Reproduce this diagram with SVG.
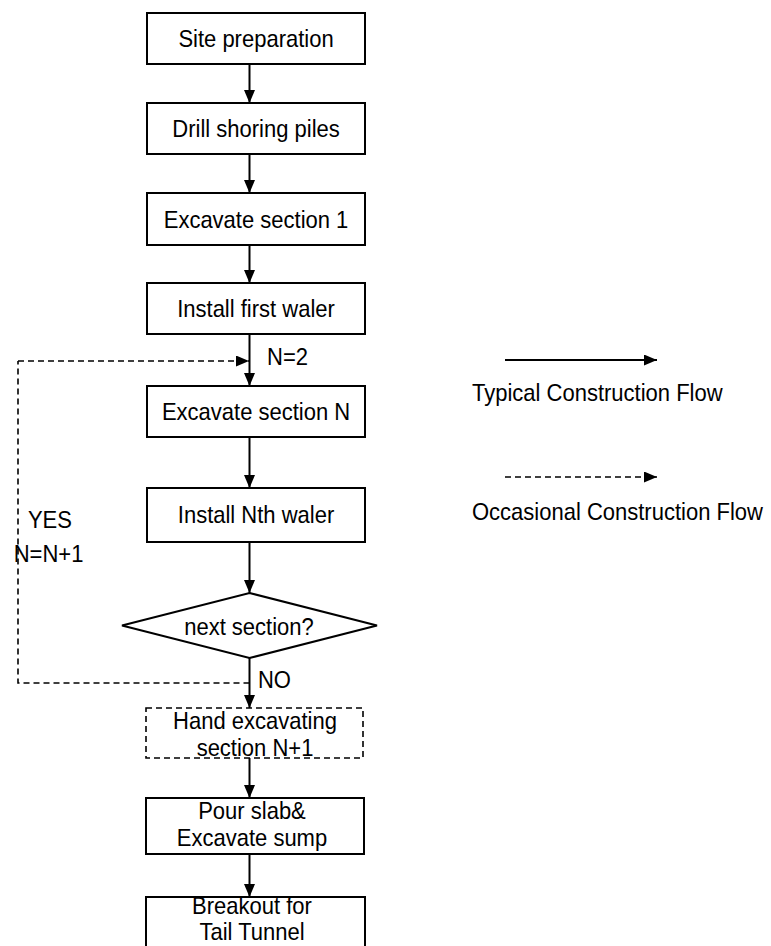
<svg xmlns="http://www.w3.org/2000/svg" width="771" height="946" viewBox="0 0 771 946">
  <defs>
    <marker id="arrow" viewBox="0 0 13 11" refX="13" refY="5.5" markerWidth="13" markerHeight="11" markerUnits="userSpaceOnUse" orient="auto">
      <path d="M0,0 L13,5.5 L0,11 Z" fill="#000"/>
    </marker>
    <style>
      .box { fill: #fff; stroke: #000; stroke-width: 2; }
      .dbox { fill: #fff; stroke: #000; stroke-width: 1.6; stroke-dasharray: 6 4; }
      /* narrow, tall lettering: 24px glyphs squeezed horizontally */
      .lbl { font-family: "Liberation Sans", Arial, sans-serif; font-size: 24px; fill: #000; text-anchor: middle; transform: scaleX(0.9167); }
      .note { font-family: "Liberation Sans", Arial, sans-serif; font-size: 24px; fill: #000; transform: scaleX(0.9167); }
      .flow { fill: none; stroke: #000; stroke-width: 2; marker-end: url(#arrow); }
      .occ { fill: none; stroke: #000; stroke-width: 1.6; stroke-dasharray: 6 4; }
      .occa { fill: none; stroke: #000; stroke-width: 1.6; stroke-dasharray: 6 4; marker-end: url(#arrow); }
    </style>
  </defs>
  <rect width="771" height="946" fill="#fff"/>

  <g id="connectors">
    <line class="flow" x1="249.5" y1="64" x2="249.5" y2="103"/>
    <line class="flow" x1="249.5" y1="154" x2="249.5" y2="193"/>
    <line class="flow" x1="249.5" y1="245" x2="249.5" y2="283"/>
    <line class="flow" x1="249.5" y1="334" x2="249.5" y2="386"/>
    <line class="flow" x1="249.5" y1="437" x2="249.5" y2="488"/>
    <line class="flow" x1="249.5" y1="542" x2="249.5" y2="593"/>
    <line class="flow" x1="249.5" y1="658" x2="249.5" y2="708"/>
    <line class="flow" x1="249.5" y1="758" x2="249.5" y2="798"/>
    <line class="flow" x1="249.5" y1="854" x2="249.5" y2="897"/>
    <!-- loop back for the next section -->
    <path class="occ" d="M249.5,683 H18 V361"/>
    <path class="occa" d="M18,361 H249"/>
    <!-- x values below are divided by the 0.9167 squeeze -->
    <text class="note" x="291.3" y="365">N=2</text>
    <text class="note" x="30.5" y="528">YES</text>
    <text class="note" x="15" y="562">N=N+1</text>
    <text class="note" x="281.4" y="688">NO</text>
  </g>

  <g id="site-preparation">
    <rect class="box" x="147" y="13" width="218" height="51"/>
    <text class="lbl" x="279.3" y="47">Site preparation</text>
  </g>
  <g id="drill-shoring-piles">
    <rect class="box" x="147" y="103" width="218" height="51"/>
    <text class="lbl" x="279.3" y="137">Drill shoring piles</text>
  </g>
  <g id="excavate-section-1">
    <rect class="box" x="147" y="193" width="218" height="52"/>
    <text class="lbl" x="279.3" y="228">Excavate section 1</text>
  </g>
  <g id="install-first-waler">
    <rect class="box" x="147" y="283" width="218" height="51"/>
    <text class="lbl" x="279.3" y="317">Install first waler</text>
  </g>
  <g id="excavate-section-n">
    <rect class="box" x="147" y="386" width="218" height="51"/>
    <text class="lbl" x="279.3" y="420">Excavate section N</text>
  </g>
  <g id="install-nth-waler">
    <rect class="box" x="147" y="488" width="218" height="54"/>
    <text class="lbl" x="279.3" y="523">Install Nth waler</text>
  </g>
  <g id="next-section">
    <polygon class="box" points="249.5,593 377,625.5 249.5,658 122,625.5"/>
    <text class="lbl" x="271.6" y="635">next section?</text>
  </g>
  <g id="hand-excavating">
    <rect class="dbox" x="146" y="708" width="217" height="50"/>
    <text class="lbl" x="278.2" y="729">Hand excavating</text>
    <text class="lbl" x="278.2" y="756">section N+1</text>
  </g>
  <g id="pour-slab">
    <rect class="box" x="146" y="798" width="218" height="56"/>
    <text class="lbl" x="274.9" y="819">Pour slab&amp;</text>
    <text class="lbl" x="274.9" y="846">Excavate sump</text>
  </g>
  <g id="breakout">
    <rect class="box" x="146" y="897" width="219" height="70"/>
    <text class="lbl" x="274.9" y="914">Breakout for</text>
    <text class="lbl" x="274.9" y="940.5">Tail Tunnel</text>
  </g>

  <g id="legend">
    <line class="flow" x1="505" y1="360" x2="657" y2="360"/>
    <text class="note" x="514.9" y="401">Typical Construction Flow</text>
    <line class="occa" x1="505" y1="477" x2="657" y2="477"/>
    <text class="note" x="514.9" y="520">Occasional Construction Flow</text>
  </g>
</svg>
